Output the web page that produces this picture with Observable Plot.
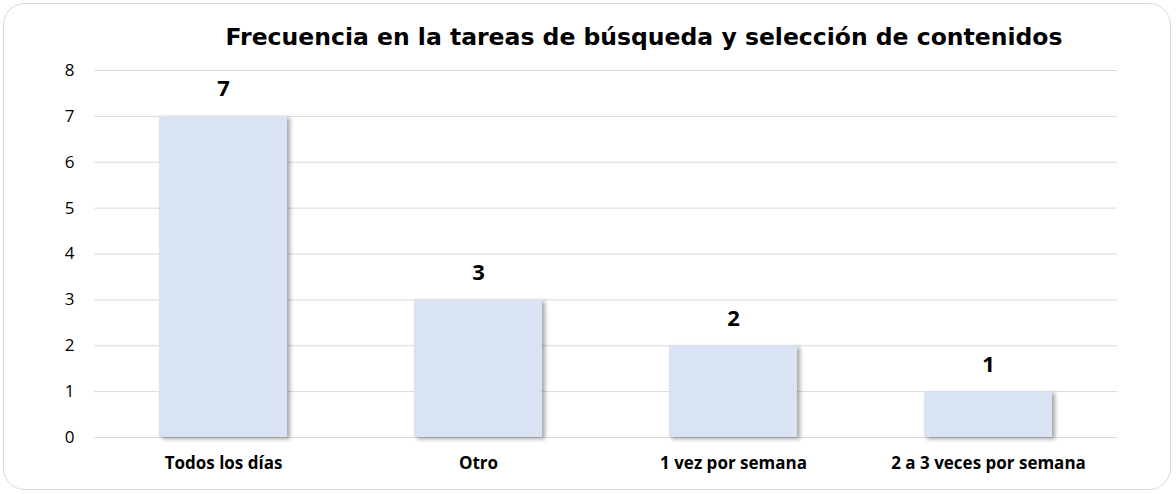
<!DOCTYPE html>
<html><head><meta charset="utf-8">
<script src="https://cdn.jsdelivr.net/npm/d3@7"></script>
<script src="https://cdn.jsdelivr.net/npm/@observablehq/plot@0.6"></script>
<style>
html,body{margin:0;padding:0;background:#fff;}
#wrap{position:relative;width:1176px;height:494px;overflow:hidden;}
#frame{position:absolute;left:3px;top:3px;width:1168px;height:487px;border:1.5px solid #d9d9d9;border-radius:22px;box-sizing:border-box;pointer-events:none;}
#title{position:absolute;left:0;top:22px;width:1176px;box-sizing:border-box;padding-left:112px;text-align:center;font-family:"DejaVu Sans",sans-serif;font-weight:bold;font-size:23.5px;line-height:30px;color:#000;white-space:nowrap;}
#chart{position:absolute;left:0;top:40px;}
#chart svg{overflow:visible;}
g[aria-label="bar"] rect{filter:drop-shadow(3px 2px 2px rgba(0,0,0,0.35));}
</style></head>
<body>
<div id="wrap">
<div id="chart"></div>
<div id="title">Frecuencia en la tareas de búsqueda y selección de contenidos</div>
<div id="frame"></div>
</div>
<script>
const categories = ["Todos los días", "Otro", "1 vez por semana", "2 a 3 veces por semana"];
const values = [7, 3, 2, 1];
const yTicks = [0, 1, 2, 3, 4, 5, 6, 7, 8];

const data = categories.map((c, i) => ({category: c, value: values[i]}));

const chart = Plot.plot({
  width: 1176,
  height: 454,
  marginLeft: 94,
  marginRight: 59,
  marginTop: 30,
  marginBottom: 57,
  style: {fontFamily: "'Open Sans', 'Liberation Sans', sans-serif", background: "transparent"},
  x: {domain: categories, paddingInner: 0.5, paddingOuter: 0.25, label: null},
  y: {domain: [0, 8], ticks: yTicks, label: null},
  marks: [
    Plot.gridY(yTicks, {stroke: "#d9d9d9", strokeOpacity: 1, strokeWidth: 1}),
    Plot.barY(data, {x: "category", y: "value", fill: "#dae3f3", ariaLabel: "bar"}),
    Plot.text(data, {x: "category", y: "value", text: d => String(d.value), dy: -27, fontSize: 22, fontWeight: "bold", fill: "#000"}),
    Plot.axisY(yTicks, {tickSize: 0, tickPadding: 20, fontSize: 17, fill: "#000"}),
    Plot.axisX({tickSize: 0, tickPadding: 19, fontSize: 17, fontWeight: "bold", fill: "#000"})
  ]
});
document.getElementById("chart").appendChild(chart);
</script>
</body></html>
